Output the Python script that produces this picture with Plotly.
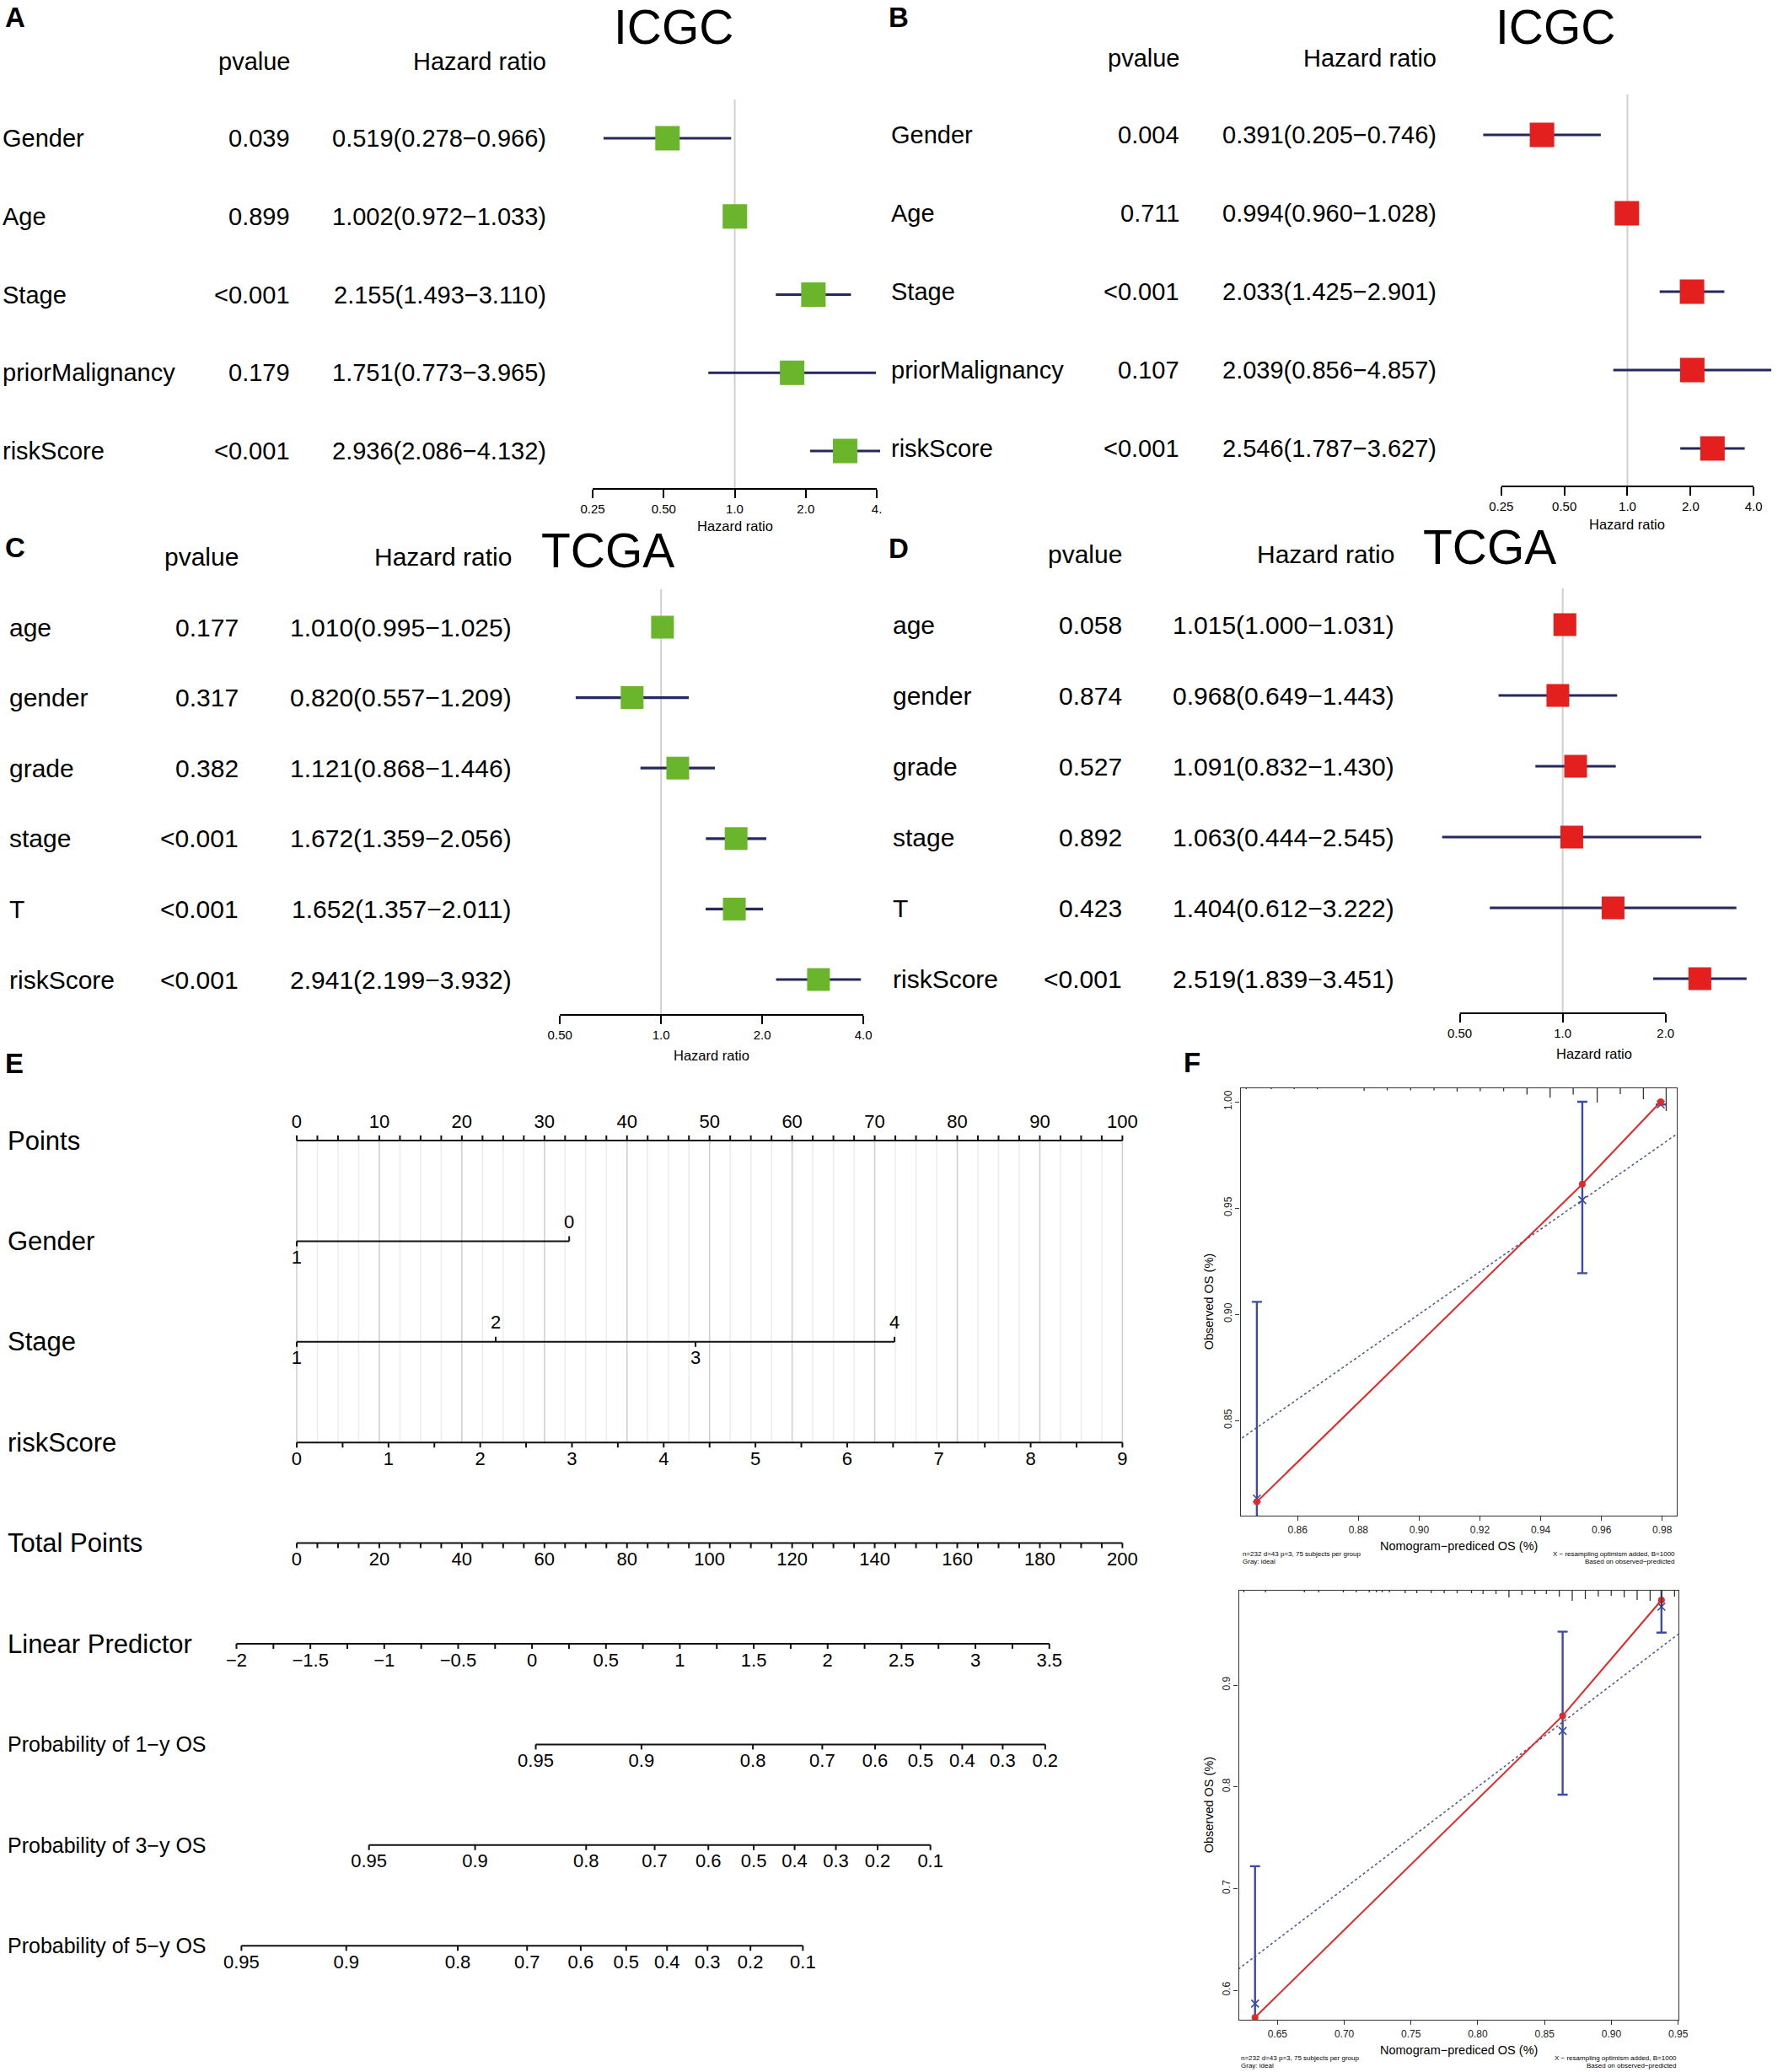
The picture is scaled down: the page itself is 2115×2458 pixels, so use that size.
import math
import numpy as np
import plotly.graph_objects as go

W, H = 2115, 2458
FONT = "Liberation Sans, Arial, Helvetica, sans-serif"
NAVY = "#24285c"
GREEN = "#6bb52c"
RED = "#e3201e"
CAL_RED = "#e02a2a"
CAL_BLUE = "#3b4ca6"
REFGREY = "#cfcfcf"

# ---- A / B : ICGC multivariate Cox ----
icgc_vars = ["Gender", "Age", "Stage", "priorMalignancy", "riskScore"]
a_pval = ["0.039", "0.899", "<0.001", "0.179", "<0.001"]
a_hr = [0.519, 1.002, 2.155, 1.751, 2.936]
a_low = [0.278, 0.972, 1.493, 0.773, 2.086]
a_high = [0.966, 1.033, 3.110, 3.965, 4.132]

b_pval = ["0.004", "0.711", "<0.001", "0.107", "<0.001"]
b_hr = [0.391, 0.994, 2.033, 2.039, 2.546]
b_low = [0.205, 0.960, 1.425, 0.856, 1.787]
b_high = [0.746, 1.028, 2.901, 4.857, 3.627]

# ---- C / D : TCGA ----
tcga_vars = ["age", "gender", "grade", "stage", "T", "riskScore"]
c_pval = ["0.177", "0.317", "0.382", "<0.001", "<0.001", "<0.001"]
c_hr = [1.010, 0.820, 1.121, 1.672, 1.652, 2.941]
c_low = [0.995, 0.557, 0.868, 1.359, 1.357, 2.199]
c_high = [1.025, 1.209, 1.446, 2.056, 2.011, 3.932]

d_pval = ["0.058", "0.874", "0.527", "0.892", "0.423", "<0.001"]
d_hr = [1.015, 0.968, 1.091, 1.063, 1.404, 2.519]
d_low = [1.000, 0.649, 0.832, 0.444, 0.612, 1.839]
d_high = [1.031, 1.443, 1.430, 2.545, 3.222, 3.451]

ab_ticks = [0.25, 0.5, 1, 2, 4]
a_ticktext = ["0.25", "0.50", "1.0", "2.0", "4."]
b_ticktext = ["0.25", "0.50", "1.0", "2.0", "4.0"]
c_ticks = [0.5, 1, 2, 4]
c_ticktext = ["0.50", "1.0", "2.0", "4.0"]
d_ticks = [0.5, 1, 2]
d_ticktext = ["0.50", "1.0", "2.0"]

# ---- E : nomogram ----
nomo_rows = ["Points", "Gender", "Stage", "riskScore", "Total Points", "Linear Predictor",
             "Probability of 1\u2212y OS", "Probability of 3\u2212y OS", "Probability of 5\u2212y OS"]
points_ticks = list(range(0, 101, 10))
gender_levels = ["1", "0"]
gender_points = [0, 33.0]
stage_levels = ["1", "2", "3", "4"]
stage_points = [0, 24.1, 48.3, 72.4]
risk_ticks = list(range(0, 10))
risk_max_points = 100
total_ticks = list(range(0, 201, 20))
lp_ticks = [-2, -1.5, -1, -0.5, 0, 0.5, 1, 1.5, 2, 2.5, 3, 3.5]
lp_end_total = (-14.6, 182.3)
os1_ticks = [0.95, 0.9, 0.8, 0.7, 0.6, 0.5, 0.4, 0.3, 0.2]
os1_total = [57.9, 83.5, 110.5, 127.3, 140.1, 151.1, 161.2, 171.0, 181.3]
os3_ticks = [0.95, 0.9, 0.8, 0.7, 0.6, 0.5, 0.4, 0.3, 0.2, 0.1]
os3_total = [17.5, 43.2, 70.1, 86.7, 99.7, 110.7, 120.6, 130.6, 140.7, 153.5]
os5_ticks = [0.95, 0.9, 0.8, 0.7, 0.6, 0.5, 0.4, 0.3, 0.2, 0.1]
os5_total = [-13.4, 12.0, 39.0, 55.8, 68.8, 79.8, 89.7, 99.5, 109.9, 122.6]

# ---- F : calibration curves ----
ideal = [0.0, 1.0]
cal1_pred = [0.8466, 0.9537, 0.9795]
cal1_obs = [0.8117, 0.9612, 1.000]
cal1_corr = [0.8132, 0.9537, 0.9987]
cal1_low = [0.72, 0.9193, None]
cal1_high = [0.9058, 1.000, None]
cal1_xticks = [0.86, 0.88, 0.90, 0.92, 0.94, 0.96, 0.98]
cal1_yticks = [0.85, 0.90, 0.95, 1.00]
cal1_rug_x = [0.8431, 0.8513, 0.8589, 0.8665, 0.8819, 0.8895, 0.8972, 0.9049, 0.9125,
              0.9201, 0.9278, 0.9355, 0.9431, 0.9507, 0.9586, 0.9662, 0.9738, 0.9813]
cal1_rug_h = [1, 1, 1, 1, 3, 2.5, 2.5, 2.5, 4, 3.5, 3.5, 7.5, 11, 7.5, 17, 7, 13, 27]

cal2_pred = [0.6332, 0.8635, 0.9375]
cal2_obs = [0.5733, 0.8698, 0.9835]
cal2_corr = [0.5869, 0.8549, 0.9771]
cal2_low = [0.45, 0.7923, 0.9516]
cal2_high = [0.7219, 0.9525, 1.0]
cal2_xticks = [0.65, 0.70, 0.75, 0.80, 0.85, 0.90, 0.95]
cal2_yticks = [0.6, 0.7, 0.8, 0.9]
cal2_rug_x = [0.6248, 0.6410, 0.6701, 0.6809, 0.6993, 0.7090, 0.7187, 0.7241, 0.7284, 0.7338,
              0.7456, 0.7543, 0.7651, 0.7748, 0.7845, 0.7953, 0.8039, 0.8136, 0.8233, 0.8330,
              0.8427, 0.8513, 0.8610, 0.8707, 0.8805, 0.8902, 0.8999, 0.9096, 0.9193, 0.9290,
              0.9376, 0.9473]
cal2_rug_h = [2, 2, 2, 2, 2, 2, 2, 2, 2, 2, 3, 3, 3, 3, 3, 3, 4, 4, 8, 5, 4, 4, 7, 12, 10,
              7, 6, 8, 11, 12, 20, 7]


def lin_at(v1, p1, v2, p2, p):
    return v1 + (p - p1) * (v2 - v1) / (p2 - p1)


def names(k):
    s = "" if k == 1 else str(k)
    return "x" + s, "y" + s, "xaxis" + s, "yaxis" + s


fig = go.Figure()
layout = dict(width=W, height=H, margin=dict(l=0, r=0, t=0, b=0),
              paper_bgcolor="white", plot_bgcolor="white", showlegend=False,
              font=dict(family=FONT, color="black"))
annotations = []
shapes = []


def note(text, x, y, size, xanchor="center", yref="paper", bold=False, angle=0):
    annotations.append(dict(
        text="<b>%s</b>" % text if bold else text, x=x / W, xref="paper",
        y=(1 - y / H) if yref == "paper" else y, yref=yref,
        xanchor=xanchor, yanchor="middle", showarrow=False, textangle=angle,
        font=dict(size=size, family=FONT, color="black")))


def add_forest(k, labels, pvals, hr, low, high, color, ticks, ticktext, cfg):
    xr_, yr_, xn, yn = names(k)
    rows = list(range(len(labels)))
    t1, p1, t2, p2 = cfg["anchor"]
    l1, l2 = math.log10(t1), math.log10(t2)
    x0, x1 = cfg["xdom"]
    r0, st = cfg["rows"]

    ci_x, ci_y = [], []
    for i in rows:
        ci_x += [low[i], high[i], None]
        ci_y += [i, i, None]
    fig.add_trace(go.Scatter(x=ci_x, y=ci_y, mode="lines", xaxis=xr_, yaxis=yr_,
                             line=dict(color=NAVY, width=3.2), hoverinfo="skip"))
    fig.add_trace(go.Scatter(x=hr, y=rows, mode="markers", xaxis=xr_, yaxis=yr_,
                             marker=dict(symbol="square", size=cfg["box"], color=color,
                                         line=dict(width=0))))

    layout[xn] = dict(domain=[x0 / W, x1 / W], type="log",
                      range=[lin_at(l1, p1, l2, p2, x0), lin_at(l1, p1, l2, p2, x1)],
                      anchor=yr_, tickvals=ticks, ticktext=ticktext, ticks="outside",
                      ticklen=10, tickwidth=2, tickcolor="black", showline=False,
                      showgrid=False, zeroline=False, tickfont=dict(size=15))
    layout[yn] = dict(domain=[1 - cfg["ybot"] / H, 1 - cfg["ytop"] / H],
                      range=[(cfg["ybot"] - r0) / st, (cfg["ytop"] - r0) / st],
                      anchor=xr_, visible=False)

    shapes.append(dict(type="line", xref=xr_, yref=yr_ + " domain", x0=1, x1=1, y0=0, y1=1,
                       line=dict(color=REFGREY, width=2), layer="below"))
    shapes.append(dict(type="line", xref=xr_, yref=yr_ + " domain", x0=ticks[0], x1=ticks[-1],
                       y0=0, y1=0, line=dict(color="black", width=2)))

    cl, cp, ch = cfg["cols"]
    fs = cfg["fs"]
    for i in rows:
        note(labels[i], cl, i, fs, "left", yr_)
        note(pvals[i], cp, i, fs, "right", yr_)
        note("%.3f(%.3f\u2212%.3f)" % (hr[i], low[i], high[i]), ch, i, fs, "right", yr_)
    note("pvalue", cp, cfg["head_y"], fs, "right")
    note("Hazard ratio", ch, cfg["head_y"], fs, "right")
    note(cfg["title"], cfg["title_xy"][0], cfg["title_xy"][1], 57)
    note(cfg["letter"], cfg["letter_xy"][0], cfg["letter_xy"][1], 33, "left", bold=True)
    note("Hazard ratio", cfg["axtitle_xy"][0], cfg["axtitle_xy"][1], 16.5)


add_forest(1, icgc_vars, a_pval, a_hr, a_low, a_high, GREEN, ab_ticks, a_ticktext, dict(
    anchor=(0.25, 707, 4, 1046), xdom=(690, 1060), rows=(164, 92.75), ytop=118, ybot=580,
    box=29, cols=(1, 348, 654), head_y=73, fs=29, title="ICGC", title_xy=(804, 32),
    letter="A", letter_xy=(4, 21), axtitle_xy=(877, 624)))
add_forest(2, icgc_vars, b_pval, b_hr, b_low, b_high, RED, ab_ticks, b_ticktext, dict(
    anchor=(0.25, 1791, 4, 2092), xdom=(1755, 2115), rows=(160, 93), ytop=112, ybot=577,
    box=29, cols=(1061, 1409, 1716), head_y=69, fs=29, title="ICGC", title_xy=(1856, 32),
    letter="B", letter_xy=(1058, 21), axtitle_xy=(1941, 622)))
add_forest(3, tcga_vars, c_pval, c_hr, c_low, c_high, GREEN, c_ticks, c_ticktext, dict(
    anchor=(0.5, 668, 4, 1030), xdom=(650, 1050), rows=(744, 83.6), ytop=699, ybot=1204,
    box=27, cols=(9, 287, 612), head_y=660, fs=30, title="TCGA", title_xy=(725, 653),
    letter="C", letter_xy=(4, 650), axtitle_xy=(849, 1252)))
add_forest(4, tcga_vars, d_pval, d_hr, d_low, d_high, RED, d_ticks, d_ticktext, dict(
    anchor=(0.5, 1741.5, 2, 1987), xdom=(1700, 2112), rows=(741, 84), ytop=698, ybot=1202,
    box=27, cols=(1063, 1341, 1665), head_y=657, fs=30, title="TCGA", title_xy=(1777, 649),
    letter="D", letter_xy=(1058, 651), axtitle_xy=(1902, 1250)))

# ---------------- nomogram ----------------
NX0, NX1 = 260, 1350          # plot area in px
NP0, NP1 = 354, 1339          # px of 0 and 100 points
NROW0, NSTEP = 1353, 119.4    # px of first row and row spacing
NTOP, NBOT = 1300, 2360
TL = 6 / NSTEP
LO = 21 / NSTEP

line_x, line_y = [], []
lab_x, lab_y, lab_t = [], [], []


def seg(xa, ya, xb, yb):
    line_x.extend([xa, xb, None])
    line_y.extend([ya, yb, None])


def label(x, y, t):
    lab_x.append(x)
    lab_y.append(y)
    lab_t.append(t)


def fmt(v):
    return ("%g" % v).replace("-", "\u2212")


# Points
seg(0, 0, 100, 0)
for v in np.arange(0, 100.01, 2.5):
    seg(v, 0, v, -TL)
for v in points_ticks:
    label(v, -LO, str(v))

# categorical rows alternate below / above
for row, levels, pts in [(1, gender_levels, gender_points), (2, stage_levels, stage_points)]:
    seg(min(pts), row, max(pts), row)
    for j, (lev, p) in enumerate(zip(levels, pts)):
        sgn = 1 if j % 2 == 0 else -1
        seg(p, row, p, row + sgn * TL)
        label(p, row + sgn * LO, lev)

# riskScore
rs_scale = risk_max_points / risk_ticks[-1]
seg(0, 3, risk_ticks[-1] * rs_scale, 3)
for v in np.arange(risk_ticks[0], risk_ticks[-1] + 0.01, 0.5):
    seg(v * rs_scale, 3, v * rs_scale, 3 + TL)
for v in risk_ticks:
    label(v * rs_scale, 3 + LO, str(v))

# Total Points
seg(0, 4, total_ticks[-1] / 2, 4)
for v in np.arange(0, total_ticks[-1] + 0.01, 5):
    seg(v / 2, 4, v / 2, 4 + TL)
for v in total_ticks:
    label(v / 2, 4 + LO, str(v))


# Linear predictor
def lp_pts(v):
    return lin_at(lp_end_total[0] / 2, lp_ticks[0], lp_end_total[1] / 2, lp_ticks[-1], v)


seg(lp_pts(lp_ticks[0]), 5, lp_pts(lp_ticks[-1]), 5)
for v in np.arange(lp_ticks[0], lp_ticks[-1] + 0.01, 0.25):
    seg(lp_pts(v), 5, lp_pts(v), 5 + TL)
for v in lp_ticks:
    label(lp_pts(v), 5 + LO, fmt(v))

# survival probabilities
for row, ticks, totals in [(6, os1_ticks, os1_total), (7, os3_ticks, os3_total), (8, os5_ticks, os5_total)]:
    pts = [t / 2 for t in totals]
    seg(min(pts), row, max(pts), row)
    for v, p in zip(ticks, pts):
        seg(p, row, p, row + TL)
        label(p, row + LO, fmt(v))

# grid between Points and riskScore
gmaj_x, gmaj_y, gmin_x, gmin_y = [], [], [], []
for v in np.arange(0, 100.01, 2.5):
    if abs(v % 10) < 1e-9:
        gmaj_x += [v, v, None]
        gmaj_y += [0, 3, None]
    else:
        gmin_x += [v, v, None]
        gmin_y += [0, 3, None]

fig.add_trace(go.Scatter(x=gmin_x, y=gmin_y, mode="lines", xaxis="x5", yaxis="y5",
                         line=dict(color="#ececec", width=1.5), hoverinfo="skip"))
fig.add_trace(go.Scatter(x=gmaj_x, y=gmaj_y, mode="lines", xaxis="x5", yaxis="y5",
                         line=dict(color="#cdcdcd", width=1.5), hoverinfo="skip"))
fig.add_trace(go.Scatter(x=line_x, y=line_y, mode="lines", xaxis="x5", yaxis="y5",
                         line=dict(color="#111111", width=2), hoverinfo="skip"))
fig.add_trace(go.Scatter(x=lab_x, y=lab_y, text=lab_t, mode="text", xaxis="x5", yaxis="y5",
                         textposition="middle center", cliponaxis=False,
                         textfont=dict(size=22, family=FONT, color="black")))

layout["xaxis5"] = dict(domain=[NX0 / W, NX1 / W], anchor="y5", visible=False,
                        range=[lin_at(0, NP0, 100, NP1, NX0), lin_at(0, NP0, 100, NP1, NX1)])
layout["yaxis5"] = dict(domain=[1 - NBOT / H, 1 - NTOP / H], anchor="x5", visible=False,
                        range=[(NBOT - NROW0) / NSTEP, (NTOP - NROW0) / NSTEP])

for i, name in enumerate(nomo_rows):
    note(name, 7, i, 31 if i < 6 else 25, "left", "y5")
note("E", 4, 1261, 33, "left", bold=True)
note("F", 1410, 1260, 33, "left", bold=True)


# ---------------- calibration ----------------
def add_calib(xk, yk, rk, pred, obs, corr, low, high, xticks, yticks, rug_x, rug_h, cfg):
    xref, yref, rref = "x%d" % xk, "y%d" % yk, "y%d" % rk
    x0, x1 = cfg["xdom"]
    top, bot = cfg["ydom"]
    xa = cfg["xanchor"]
    ya = cfg["yanchor"]

    fig.add_trace(go.Scatter(x=ideal, y=ideal, mode="lines", xaxis=xref, yaxis=yref,
                             line=dict(color="#4f5f8c", width=1.6, dash="dot"), hoverinfo="skip"))
    up = [None if h is None else h - c for h, c in zip(high, corr)]
    dn = [None if l is None else c - l for l, c in zip(low, corr)]
    fig.add_trace(go.Scatter(x=pred, y=corr, mode="markers", xaxis=xref, yaxis=yref,
                             marker=dict(symbol="x-thin", size=9, color=CAL_BLUE,
                                         line=dict(width=1.6, color=CAL_BLUE)),
                             error_y=dict(type="data", symmetric=False, array=up, arrayminus=dn,
                                          color=CAL_BLUE, thickness=2.4, width=6)))
    fig.add_trace(go.Scatter(x=pred, y=obs, mode="lines+markers", xaxis=xref, yaxis=yref,
                             line=dict(color=CAL_RED, width=2),
                             marker=dict(size=8, color=CAL_RED)))
    rx, ry = [], []
    for v, h in zip(rug_x, rug_h):
        rx += [v, v, None]
        ry += [0, h, None]
    fig.add_trace(go.Scatter(x=rx, y=ry, mode="lines", xaxis=xref, yaxis=rref,
                             line=dict(color="#333333", width=1.3), hoverinfo="skip"))

    axstyle = dict(showline=True, mirror=True, linecolor="#333333", linewidth=1.3,
                   ticks="outside", ticklen=5, tickwidth=1.2, tickcolor="#333333",
                   showgrid=False, zeroline=False, tickfont=dict(size=12, color="#222222"))
    layout["xaxis%d" % xk] = dict(domain=[x0 / W, x1 / W], anchor=yref,
                                  range=[lin_at(xa[0], xa[1], xa[2], xa[3], x0),
                                         lin_at(xa[0], xa[1], xa[2], xa[3], x1)],
                                  tickvals=xticks, ticktext=["%.2f" % v for v in xticks], **axstyle)
    layout["yaxis%d" % yk] = dict(domain=[1 - bot / H, 1 - top / H], anchor=xref,
                                  range=[lin_at(ya[0], ya[1], ya[2], ya[3], bot),
                                         lin_at(ya[0], ya[1], ya[2], ya[3], top)],
                                  tickvals=yticks, ticktext=[cfg["yfmt"] % v for v in yticks],
                                  tickangle=-90, **axstyle)
    layout["yaxis%d" % rk] = dict(overlaying=yref, anchor=xref, visible=False,
                                  range=[bot - top, 0])

    note("Observed OS (%)", 1442, (top + bot) / 2, 14.5, angle=-90)
    note("Nomogram\u2212prediced OS (%)", 1740, bot + 36, 14.5)
    note("n=232 d=43 p=3, 75 subjects per group", x0, bot + 45, 8, "left")
    note("Gray: ideal", x0, bot + 54, 8, "left")
    note("X \u2212 resampling optimism added, B=1000", x1, bot + 45, 8, "right")
    note("Based on observed\u2212predicted", x1, bot + 54, 8, "right")


add_calib(6, 6, 7, cal1_pred, cal1_obs, cal1_corr, cal1_low, cal1_high, cal1_xticks, cal1_yticks,
          cal1_rug_x, cal1_rug_h, dict(xdom=(1480, 2000), ydom=(1291, 1798),
                                       xanchor=(0.86, 1548, 0.98, 1983),
                                       yanchor=(0.85, 1685, 1.00, 1307), yfmt="%.2f"))
add_calib(7, 8, 9, cal2_pred, cal2_obs, cal2_corr, cal2_low, cal2_high, cal2_xticks, cal2_yticks,
          cal2_rug_x, cal2_rug_h, dict(xdom=(1478, 2002), ydom=(1887, 2396),
                                       xanchor=(0.65, 1524, 0.95, 2002),
                                       yanchor=(0.6, 2361, 0.9, 1999), yfmt="%.1f"))

layout["annotations"] = annotations
layout["shapes"] = shapes
fig.update_layout(**layout)

# the page body has a default 8px margin; drop it so the figure sits at the corner
fig.write_html("out.html", config={"displayModeBar": False},
               post_script="document.body.style.margin='0';document.body.style.padding='0';"
                           "document.body.style.overflow='hidden';")
